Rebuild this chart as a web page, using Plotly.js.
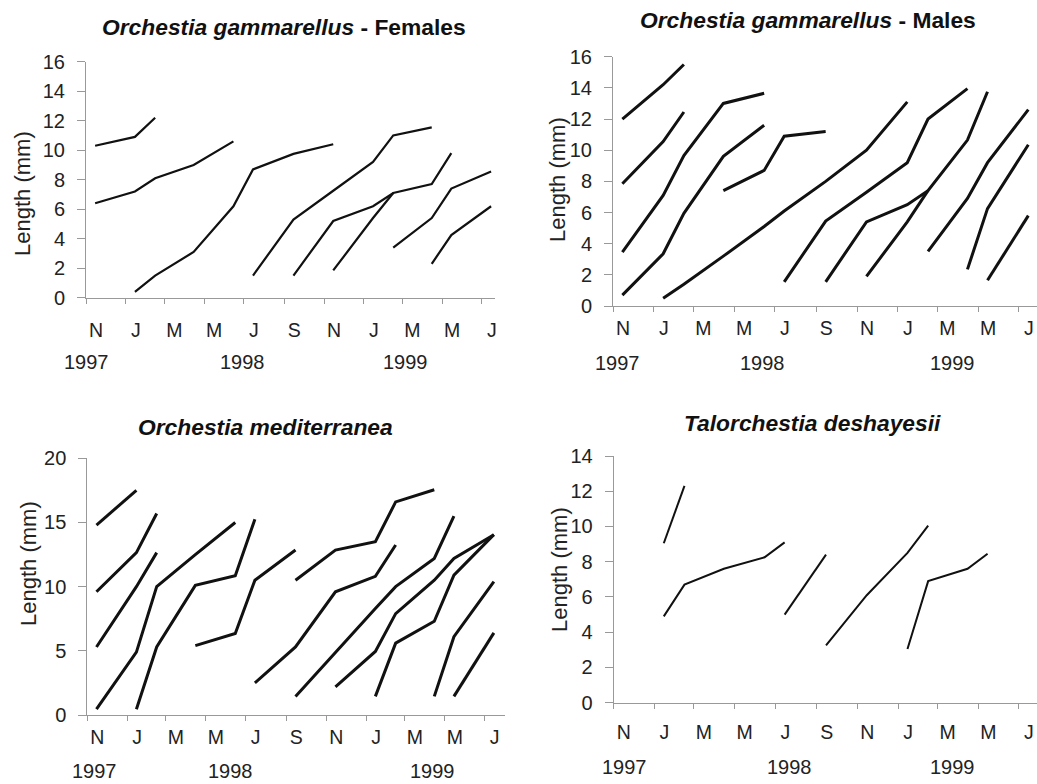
<!DOCTYPE html>
<html>
<head>
<meta charset="utf-8">
<script src="https://cdn.plot.ly/plotly-3.0.1.min.js"></script>
<style>
  html, body { margin: 0; padding: 0; background: #fff; }
  #chart { width: 1037px; height: 784px; }
</style>
</head>
<body>
<div id="chart"></div>
<script>
// ---- Data ----
// Sampling dates (mid-month)
const sampleDates = ['1997-11-15','1998-01-15','1998-02-15','1998-04-15','1998-06-15','1998-07-15',
                     '1998-09-15','1998-11-15','1999-01-15','1999-02-15','1999-04-15','1999-05-15','1999-07-15'];

// Tick positions (month starts, every two months) and their labels
const tickDates = ['1997-11-01','1998-01-01','1998-03-01','1998-05-01','1998-07-01','1998-09-01',
                   '1998-11-01','1999-01-01','1999-03-01','1999-05-01','1999-07-01'];
const tickLabels = ['N','J','M','M','J','S','N','J','M','M','J'];
const yearLabels = ['1997','1998','1999'];

const n = null;
// Mean length (mm) of each cohort at each sampling date
const femalesLength = [
  [10.3, 10.9, 12.2, n, n, n, n, n, n, n, n, n, n],
  [6.4, 7.2, 8.1, 9.0, 10.6, n, n, n, n, n, n, n, n],
  [n, 0.4, 1.5, 3.1, 6.2, 8.7, 9.75, 10.4, n, n, n, n, n],
  [n, n, n, n, n, 1.5, 5.3, 7.25, 9.2, 11.0, 11.55, n, n],
  [n, n, n, n, n, n, 1.5, 5.2, 6.2, 7.1, 7.7, 9.8, n],
  [n, n, n, n, n, n, n, 1.85, 5.4, 7.1, n, n, n],
  [n, n, n, n, n, n, n, n, n, 3.4, 5.4, 7.4, 8.55],
  [n, n, n, n, n, n, n, n, n, n, 2.3, 4.25, 6.2]
];
const malesLength = [
  [12.0, 14.2, 15.5, n, n, n, n, n, n, n, n, n, n],
  [7.85, 10.55, 12.45, n, n, n, n, n, n, n, n, n, n],
  [3.45, 7.1, 9.65, 13.0, 13.65, n, n, n, n, n, n, n, n],
  [0.7, 3.35, 5.95, 9.6, 11.6, n, n, n, n, n, n, n, n],
  [n, n, n, 7.4, 8.7, 10.9, 11.2, n, n, n, n, n, n],
  [n, 0.5, 1.4, 3.2, 5.1, 6.1, 8.0, 10.0, 13.1, n, n, n, n],
  [n, n, n, n, n, 1.55, 5.45, 7.3, 9.2, 12.0, 13.95, n, n],
  [n, n, n, n, n, n, 1.55, 5.4, 6.5, 7.4, 10.65, 13.75, n],
  [n, n, n, n, n, n, n, 1.9, 5.4, 7.4, n, n, n],
  [n, n, n, n, n, n, n, n, n, 3.5, 6.9, 9.2, 12.6],
  [n, n, n, n, n, n, n, n, n, n, 2.35, 6.25, 10.35],
  [n, n, n, n, n, n, n, n, n, n, n, 1.65, 5.8]
];
const mediterraneaLength = [
  [14.8, 17.5, n, n, n, n, n, n, n, n, n, n, n],
  [9.6, 12.65, 15.7, n, n, n, n, n, n, n, n, n, n],
  [5.3, 10.0, 12.65, n, n, n, n, n, n, n, n, n, n],
  [0.45, 4.9, 10.0, 12.5, 15.0, n, n, n, n, n, n, n, n],
  [n, 0.45, 5.3, 10.1, 10.85, 15.25, n, n, n, n, n, n, n],
  [n, n, n, 5.4, 6.35, 10.5, 12.85, n, n, n, n, n, n],
  [n, n, n, n, n, 2.5, 5.3, 9.6, 10.8, 13.25, n, n, n],
  [n, n, n, n, n, n, 10.5, 12.85, 13.5, 16.6, 17.55, n, n],
  [n, n, n, n, n, n, 1.45, 4.9, 8.3, 10.0, 12.2, 15.5, n],
  [n, n, n, n, n, n, n, 2.2, 4.95, 7.9, 10.5, 12.2, 14.05],
  [n, n, n, n, n, n, n, n, 1.45, 5.6, 7.3, 10.9, 14.05],
  [n, n, n, n, n, n, n, n, n, n, 1.45, 6.1, 10.4],
  [n, n, n, n, n, n, n, n, n, n, n, 1.45, 6.4]
];
const deshayesiiLength = [
  [n, 9.05, 12.3, n, n, n, n, n, n, n, n, n, n],
  [n, 4.9, 6.7, 7.6, 8.25, 9.1, n, n, n, n, n, n, n],
  [n, n, n, n, n, 5.0, 8.4, n, n, n, n, n, n],
  [n, n, n, n, n, n, 3.25, 6.1, 8.5, 10.05, n, n, n],
  [n, n, n, n, n, n, n, n, 3.05, 6.9, 7.6, 8.45, n]
];

const panelTitles = [
  '<b><i>Orchestia gammarellus</i> - Females</b>',
  '<b><i>Orchestia gammarellus</i> - Males</b>',
  '<b><i>Orchestia mediterranea</i></b>',
  '<b><i>Talorchestia deshayesii</i></b>'
];
const yAxisTitle = 'Length (mm)';

// ---- Layout helpers (pixel geometry of the figure) ----
const W = 1037, H = 784;
const FONT = 'Liberation Sans, Arial, Helvetica, sans-serif';
const px = v => v / W;
const py = v => 1 - v / H;

const panels = [
  { data: femalesLength,      width: 2.2, x0: 86,    x1: 495,  yb: 297.7, yt: 61.7,  ymax: 16, dtick: 2, xend: '1999-07-21',
    standoff: 10, title: [284, 26.7], ytitle: [22, 194], years: [86.7, 242.5, 405.7], yearY: 362 },
  { data: malesLength,        width: 3.0, x0: 613,   x1: 1037, yb: 306,   yt: 56.7,  ymax: 16, dtick: 2, xend: '1999-07-28',
    standoff: 10.5, title: [807.5, 20],  ytitle: [558, 180], years: [617.8, 762, 952], yearY: 363 },
  { data: mediterraneaLength, width: 3.0, x0: 87.3,  x1: 505,  yb: 715,   yt: 458.3, ymax: 20, dtick: 5, xend: '1999-08-01',
    standoff: 9.5, title: [265.8, 426.7], ytitle: [28, 564], years: [94, 230.8, 432.5], yearY: 771 },
  { data: deshayesiiLength,   width: 2.0, x0: 613.7, x1: 1037, yb: 702.7, yt: 456,   ymax: 14, dtick: 2, xend: '1999-07-28',
    standoff: 7, title: [812, 423],   ytitle: [559, 570], years: [624.5, 789.5, 952.8], yearY: 767 }
];

const traces = [];
const layout = {
  width: W, height: H,
  margin: { l: 0, r: 0, t: 0, b: 0 },
  paper_bgcolor: '#fff', plot_bgcolor: 'rgba(0,0,0,0)',
  showlegend: false,
  font: { family: FONT, color: '#222' },
  annotations: []
};

panels.forEach((p, i) => {
  const k = i + 1;
  const xa = k === 1 ? 'x' : 'x' + k;
  const ya = k === 1 ? 'y' : 'y' + k;
  const xk = k === 1 ? 'xaxis' : 'xaxis' + k;
  const yk = k === 1 ? 'yaxis' : 'yaxis' + k;

  p.data.forEach(row => {
    traces.push({
      type: 'scatter', mode: 'lines', x: sampleDates, y: row,
      xaxis: xa, yaxis: ya, connectgaps: false,
      line: { color: '#111', width: p.width },
      hoverinfo: 'skip'
    });
  });

  layout[xk] = {
    type: 'date', domain: [px(p.x0), px(p.x1)], anchor: ya,
    range: ['1997-11-01', p.xend],
    tickmode: 'array', tickvals: tickDates, ticktext: tickLabels,
    ticks: 'outside', ticklen: 5, tickcolor: '#999', tickwidth: 1,
    ticklabelshift: 10, ticklabelstandoff: p.standoff,
    tickfont: { family: FONT, size: 19.5, color: '#222' },
    showline: true, linecolor: '#999', linewidth: 1,
    showgrid: false, zeroline: false, fixedrange: true
  };
  layout[yk] = {
    domain: [py(p.yb), py(p.yt)], anchor: xa,
    range: [0, p.ymax], dtick: p.dtick, tick0: 0,
    ticks: 'outside', ticklen: 8, tickcolor: '#999', tickwidth: 1,
    ticklabelstandoff: 8,
    tickfont: { family: FONT, size: 20, color: '#222' },
    showline: true, linecolor: '#999', linewidth: 1,
    showgrid: false, zeroline: false, fixedrange: true
  };

  // panel title
  layout.annotations.push({
    xref: 'paper', yref: 'paper', x: px(p.title[0]), y: py(p.title[1]),
    xanchor: 'center', yanchor: 'middle', showarrow: false,
    text: panelTitles[i], font: { family: FONT, size: 22.8, color: '#111' }
  });
  // y-axis title
  layout.annotations.push({
    xref: 'paper', yref: 'paper', x: px(p.ytitle[0]), y: py(p.ytitle[1]),
    xanchor: 'center', yanchor: 'middle', showarrow: false, textangle: -90,
    text: yAxisTitle, font: { family: FONT, size: 22, color: '#222' }
  });
  // year labels
  yearLabels.forEach((yr, j) => {
    layout.annotations.push({
      xref: 'paper', yref: 'paper', x: px(p.years[j]), y: py(p.yearY),
      xanchor: 'center', yanchor: 'middle', showarrow: false,
      text: yr, font: { family: FONT, size: 20, color: '#222' }
    });
  });
});

Plotly.newPlot('chart', traces, layout, { displayModeBar: false, staticPlot: true });
</script>
</body>
</html>
